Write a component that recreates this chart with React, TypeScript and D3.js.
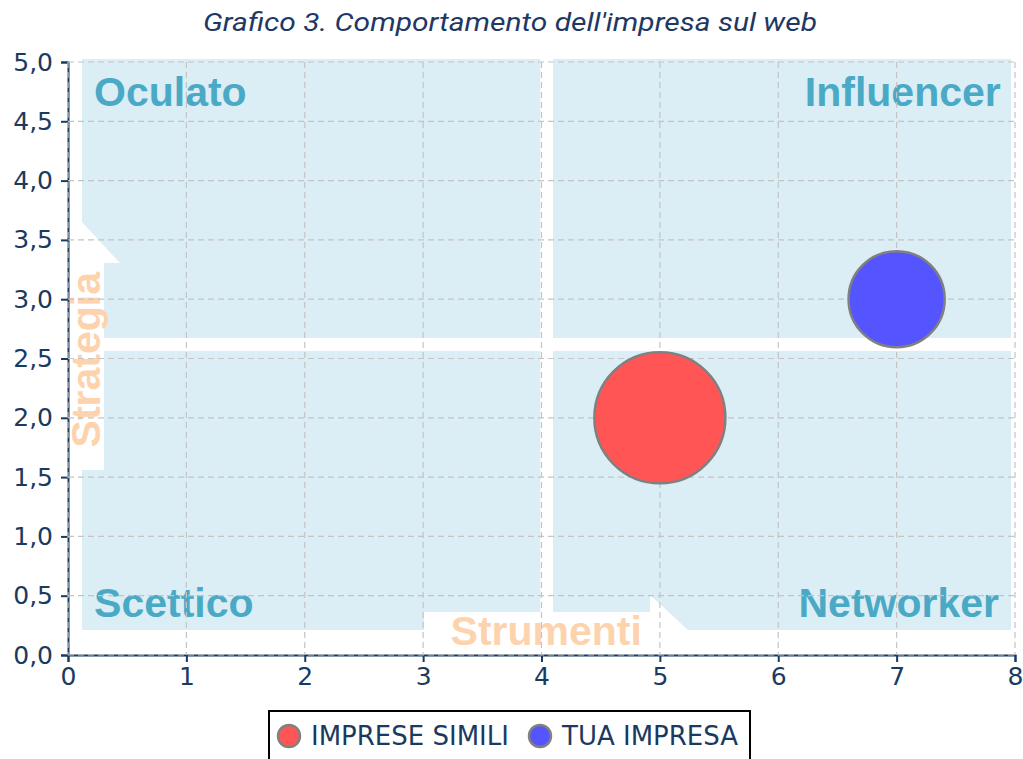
import React, { useEffect, useRef } from 'react';
import * as d3 from 'd3';

// Chart values
const seriesNames = ['IMPRESE SIMILI', 'TUA IMPRESA'];
const strumentiValues = [5, 7];
const strategiaValues = [2, 3];
const sizeValues = [13, 7];
const seriesColors = ['#ff5555', '#5555ff'];

const xTicks = [0, 1, 2, 3, 4, 5, 6, 7, 8];
const yTicks = [0, 0.5, 1, 1.5, 2, 2.5, 3, 3.5, 4, 4.5, 5];

const titleText = "Grafico 3. Comportamento dell'impresa sul web";

// Background quadrant artwork, in axis units
const quadrantShapes: [number, number][][] = [
    [[0.118, 5.025], [3.99, 5.025], [3.99, 2.673], [0.304, 2.673], [0.304, 3.305], [0.439, 3.305], [0.118, 3.651]],
    [[0.304, 2.563], [3.99, 2.563], [3.99, 0.363], [3.007, 0.363], [3.007, 0.211], [0.118, 0.211], [0.118, 1.56], [0.304, 1.56]],
    [[4.097, 5.025], [7.966, 5.025], [7.966, 2.673], [4.097, 2.673]],
    [[4.097, 2.563], [7.966, 2.563], [7.966, 0.211], [5.238, 0.211], [4.917, 0.506], [4.917, 0.363], [4.097, 0.363]]
];
const quadrantLabels = [
    { text: 'Oculato', x: 0.22, y: 4.63, anchor: 'start' },
    { text: 'Influencer', x: 7.88, y: 4.63, anchor: 'end' },
    { text: 'Scettico', x: 0.22, y: 0.32, anchor: 'start' },
    { text: 'Networker', x: 7.865, y: 0.32, anchor: 'end' }
];

export default function App() {
    const svgRef = useRef<SVGSVGElement>(null);

    useEffect(() => {
        const svg = d3.select(svgRef.current);
        svg.selectAll('*').remove();

        const W = 1023;
        const H = 759;
        const margin = { top: 62, right: 8, bottom: 104, left: 68 };
        const width = W - margin.left - margin.right;
        const height = H - margin.top - margin.bottom;

        svg.attr('width', W).attr('height', H);

        const navy = '#1b3a60';
        const comma = d3.formatLocale({ decimal: ',', thousands: '.', grouping: [3], currency: ['€', ''] });

        const x = d3.scaleLinear().domain([0, 8]).range([0, width]);
        const y = d3.scaleLinear().domain([0, 5]).range([height, 0]);
        const r = d3.scaleSqrt().domain([0, d3.max(sizeValues) as number]).range([0, 65.5]);

        // Title
        svg.append('text')
            .attr('x', 510)
            .attr('y', 31)
            .attr('text-anchor', 'middle')
            .style('font-family', 'Roboto, sans-serif')
            .style('font-style', 'italic')
            .style('font-size', '25px')
            .attr('textLength', 614)
            .attr('lengthAdjust', 'spacingAndGlyphs')
            .style('fill', '#1f3864')
            .text(titleText);

        const g = svg.append('g').attr('transform', `translate(${margin.left},${margin.top})`);

        // Background panels
        const shape = d3.line<[number, number]>()
            .x((d) => x(d[0]))
            .y((d) => y(d[1]))
            .curve(d3.curveLinearClosed);
        g.selectAll('.panel')
            .data(quadrantShapes)
            .enter()
            .append('path')
            .attr('d', (d) => shape(d))
            .attr('fill', '#dbedf5');

        g.selectAll('.qlabel')
            .data(quadrantLabels)
            .enter()
            .append('text')
            .attr('x', (d) => x(d.x))
            .attr('y', (d) => y(d.y))
            .attr('text-anchor', (d) => d.anchor)
            .style('font-family', '"Liberation Sans", Arial, sans-serif')
            .style('font-weight', 'bold')
            .style('font-size', '41px')
            .style('fill', '#4aaac6')
            .text((d) => d.text);

        g.append('text')
            .attr('x', x(4.04))
            .attr('y', y(0.085))
            .attr('text-anchor', 'middle')
            .style('font-family', '"Liberation Sans", Arial, sans-serif')
            .style('font-weight', 'bold')
            .style('font-size', '41px')
            .style('fill', '#fdd3ae')
            .text('Strumenti');

        g.append('text')
            .attr('transform', `translate(${x(0.27)},${y(2.49)}) rotate(-90)`)
            .attr('text-anchor', 'middle')
            .style('font-family', '"Liberation Sans", Arial, sans-serif')
            .style('font-weight', 'bold')
            .style('font-size', '41px')
            .style('fill', '#fdd3ae')
            .text('Strategia');

        // Axes
        const xAxis = g.append('g')
            .attr('transform', `translate(0,${height})`)
            .call(d3.axisBottom(x).tickValues(xTicks).tickSize(7).tickPadding(5).tickFormat(d3.format('d')));
        const yAxis = g.append('g')
            .call(d3.axisLeft(y).tickValues(yTicks).tickSize(7).tickPadding(8).tickFormat(comma.format('.1f')));
        [xAxis, yAxis].forEach((a) => {
            a.select('.domain').attr('stroke', navy).attr('stroke-width', 2);
            a.selectAll('.tick line').attr('stroke', navy).attr('stroke-width', 2);
            a.selectAll('.tick text')
                .style('font-family', '"DejaVu Sans", sans-serif')
                .style('font-size', '25px')
                .style('fill', navy);
        });

        // Grid
        const grid = g.append('g')
            .attr('stroke', '#c4c4c4')
            .attr('stroke-width', 1.2)
            .attr('stroke-dasharray', '6,4');
        grid.selectAll('.vx')
            .data(xTicks)
            .enter()
            .append('line')
            .attr('x1', (d) => x(d))
            .attr('x2', (d) => x(d))
            .attr('y1', 0)
            .attr('y2', height);
        grid.selectAll('.hy')
            .data(yTicks)
            .enter()
            .append('line')
            .attr('x1', 0)
            .attr('x2', width)
            .attr('y1', (d) => y(d))
            .attr('y2', (d) => y(d));

        // Bubbles
        g.selectAll('.bubble')
            .data(seriesNames)
            .enter()
            .append('circle')
            .attr('cx', (_, i) => x(strumentiValues[i]))
            .attr('cy', (_, i) => y(strategiaValues[i]))
            .attr('r', (_, i) => r(sizeValues[i]))
            .attr('fill', (_, i) => seriesColors[i])
            .attr('stroke', '#808080')
            .attr('stroke-width', 2.5);

        // Legend
        const legend = svg.append('g');
        legend.append('rect')
            .attr('x', 269)
            .attr('y', 711)
            .attr('width', 481)
            .attr('height', 70)
            .attr('fill', '#fff')
            .attr('stroke', '#000')
            .attr('stroke-width', 2);
        const itemX = [289, 540];
        seriesNames.forEach((name, i) => {
            legend.append('circle')
                .attr('cx', itemX[i])
                .attr('cy', 736)
                .attr('r', 11)
                .attr('fill', seriesColors[i])
                .attr('stroke', '#808080')
                .attr('stroke-width', 2.5);
            legend.append('text')
                .attr('x', itemX[i] + 22)
                .attr('y', 745)
                .style('font-family', '"DejaVu Sans", sans-serif')
                .style('font-size', '26px')
                .style('fill', navy)
                .text(name);
        });
    }, []);

    return (
        <div style={{ position: 'absolute', left: 0, top: 0, width: 1023, height: 759, overflow: 'hidden', background: '#fff' }}>
            <svg ref={svgRef} style={{ display: 'block' }} />
        </div>
    );
}
